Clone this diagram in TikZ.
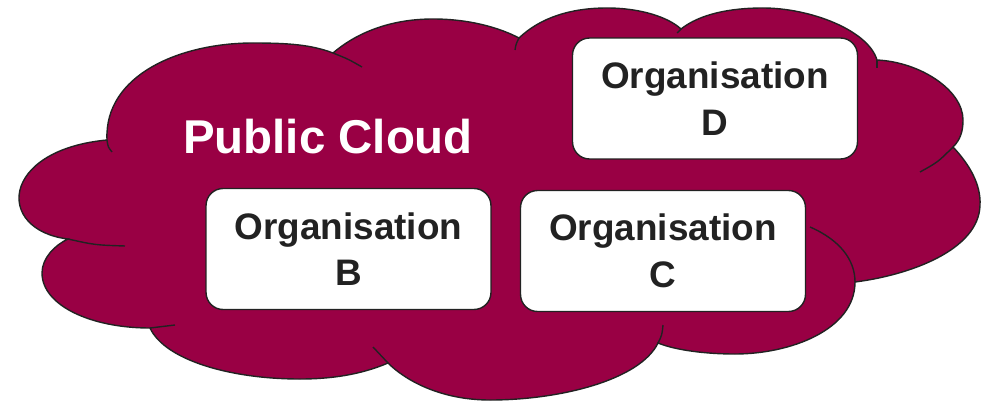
\documentclass[tikz,border=0pt]{standalone}
\usepackage{fontspec}
\setmainfont{Liberation Sans}
\definecolor{cloudred}{HTML}{990044}
\definecolor{inkgray}{HTML}{222222}

\begin{document}
\begin{tikzpicture}[x=0.02cm,y=-0.02cm,
    cloudline/.style={draw=inkgray,line width=0.8pt},
    orgbox/.style={draw=inkgray,line width=0.8pt,fill=white,rounded corners=0.34cm,
        minimum width=5.7cm,minimum height=2.42cm,align=center,text=inkgray,
        font=\fontsize{21}{26.5}\selectfont\bfseries}]
    \useasboundingbox (0,0) rectangle (982,402);

    % outer outline of the cloud
    \path[cloudline,fill=cloudred] (68,239)
        .. controls (-5,230) and (0,150) .. (107,140)
        .. controls (104,75) and (180,43) .. (253,43)
        .. controls (290,43) and (312,45) .. (333,53)
        .. controls (360,30) and (395,19) .. (433,19)
        .. controls (470,19) and (500,28) .. (519,38)
        .. controls (540,18) and (570,8) .. (607,8)
        .. controls (640,8) and (668,17) .. (681,29)
        .. controls (700,14) and (730,8) .. (763,8)
        .. controls (810,8) and (868,30) .. (877,60)
        .. controls (920,62) and (963,90) .. (963,120)
        .. controls (963,132) and (960,140) .. (953,147)
        .. controls (970,165) and (981,185) .. (980,205)
        .. controls (979,250) and (910,275) .. (855,282)
        .. controls (855,330) and (790,354) .. (735,354)
        .. controls (705,354) and (675,350) .. (658,343)
        .. controls (640,380) and (560,400) .. (490,400)
        .. controls (440,400) and (405,380) .. (388,363)
        .. controls (360,375) and (330,379) .. (300,379)
        .. controls (230,379) and (165,360) .. (150,328)
        .. controls (90,328) and (42,305) .. (42,273)
        .. controls (42,258) and (55,245) .. (68,239) -- cycle;

    % inner tails of the lobes
    \draw[cloudline] (107,140) .. controls (108,147) .. (112,152);
    \draw[cloudline] (333,53) .. controls (348,59) .. (362,67);
    \draw[cloudline] (519,38) .. controls (516,44) .. (515,50);
    \draw[cloudline] (681,29) -- (677,33);
    \draw[cloudline] (877,60) -- (877,68);
    \draw[cloudline] (953,147) .. controls (938,162) .. (920,172);
    \draw[cloudline] (810,227) .. controls (840,240) and (855,260) .. (855,282);
    \draw[cloudline] (663,325) .. controls (662,335) .. (658,343);
    \draw[cloudline] (388,363) .. controls (380,355) .. (373,347);
    \draw[cloudline] (150,328) .. controls (162,327) .. (175,325);
    \draw[cloudline] (68,239) .. controls (95,245) .. (125,246);

    \node[text=white,font=\fontsize{27}{32}\selectfont\bfseries,anchor=base]
        (pubcloud) at (328,153) {Public Cloud};

    \node[orgbox] (orgD) at (715,98.5) {Organisation\\D};
    \node[orgbox] (orgB) at (348.5,249) {Organisation\\B};
    \node[orgbox] (orgC) at (663,251) {Organisation\\C};
\end{tikzpicture}
\end{document}
